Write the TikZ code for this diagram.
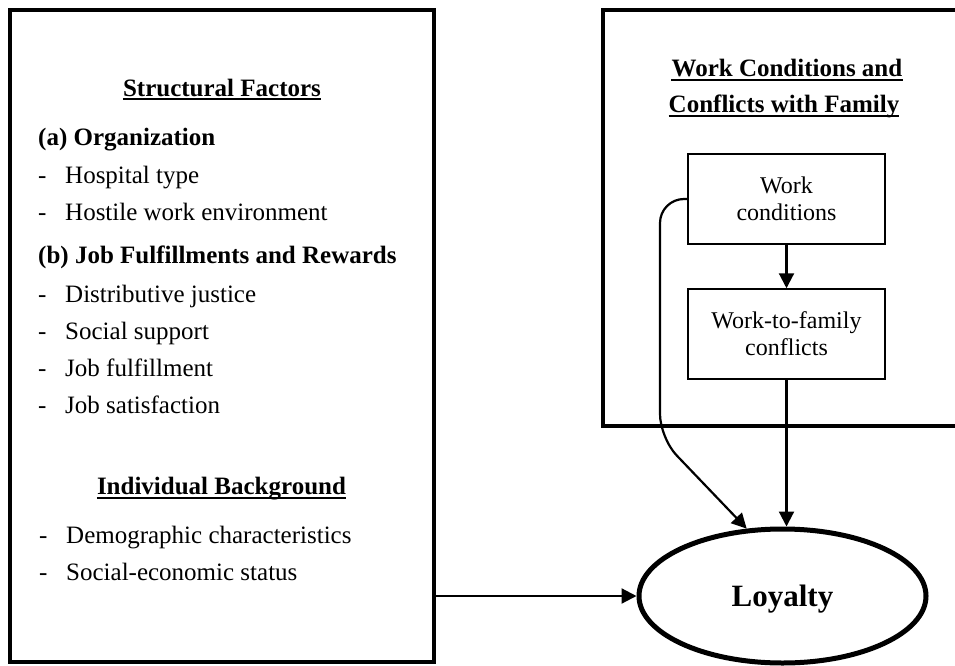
\documentclass[tikz,border=0pt]{standalone}
\usepackage{fontspec}
\setmainfont{Liberation Serif}
\usetikzlibrary{arrows.meta,shapes.geometric}
\begin{document}
\begin{tikzpicture}[x=1pt,y=-1pt,
  every node/.style={inner sep=0pt},
  outerbox/.style={draw, line width=3.3pt, rectangle},
  innerbox/.style={draw, line width=1.5pt, rectangle, minimum width=197pt, minimum height=90pt,
                   align=center, font=\fontsize{24}{27}\selectfont},
  head/.style={anchor=base, font=\fontsize{25}{30}\selectfont\bfseries},
  item/.style={anchor=base west, font=\fontsize{25}{30}\selectfont},
  uline/.style={line width=2pt},
  conn/.style={line width=2.2pt, -{Triangle[length=15pt,width=15pt]}}
]
\useasboundingbox (0,0) rectangle (955,666);

% outer boxes
\node[outerbox, minimum width=424pt, minimum height=652pt] (lbox) at (222,336) {};
\node[outerbox, minimum width=357pt, minimum height=416pt] (rbox) at (781.5,218) {};

% left box headings and items
\node[head] (sf) at (222,97) {Structural Factors};
\draw[uline] ([yshift=-2.5pt]sf.base west) -- ([yshift=-2.5pt]sf.base east);

\node[item] (orga) at (38,146) {\bfseries (a) Organization};
\node[item] (d1) at (38,183) {-}; \node[item] (t1) at (65,183) {Hospital type};
\node[item] (d2) at (38,220) {-}; \node[item] (t2) at (65,220) {Hostile work environment};
\node[item] (jobb) at (38,263) {\bfseries (b) Job Fulfillments and Rewards};
\node[item] (d3) at (38,302) {-}; \node[item] (t3) at (65,302) {Distributive justice};
\node[item] (d4) at (38,339) {-}; \node[item] (t4) at (65,339) {Social support};
\node[item] (d5) at (38,376) {-}; \node[item] (t5) at (65,376) {Job fulfillment};
\node[item] (d6) at (38,413) {-}; \node[item] (t6) at (65,413) {Job satisfaction};

\node[head] (ib) at (221.5,494) {Individual Background};
\draw[uline] ([yshift=-3.5pt]ib.base west) -- ([yshift=-3.5pt]ib.base east);

\node[item] (d7) at (39,543) {-}; \node[item] (t7) at (66,543) {Demographic characteristics};
\node[item] (d8) at (39,580) {-}; \node[item] (t8) at (66,580) {Social-economic status};

% right box headings
\node[head] (wh1) at (787,77) {Work Conditions and\ };
\draw[uline] ([yshift=-3pt]wh1.base west) -- ([yshift=-3pt]wh1.base east);
\node[head] (wh2) at (784,113) {Conflicts with Family};
\draw[uline] ([yshift=-3pt]wh2.base west) -- ([yshift=-3pt]wh2.base east);

% inner boxes
\node[innerbox] (wc) at (786.5,199) {Work\\conditions};
\node[innerbox] (wtf) at (786.5,334) {Work-to-family\\conflicts};

% outcome
\node[draw, ellipse, line width=5pt, minimum width=287pt, minimum height=134pt,
      text depth=0pt, font=\fontsize{31}{36}\selectfont\bfseries] (loy) at (782.5,596) {Loyalty};

% connectors
\draw[conn] (wc.south) -- (wtf.north);
\draw[conn] (wtf.south) -- (wtf.south |- loy.north);
\draw[conn, rounded corners=24pt] (wc.west) -- (660,199) -- (660,438) -- (loy.118);
\draw[conn] (lbox.east |- loy.west) -- (loy.west);
\end{tikzpicture}
\end{document}
